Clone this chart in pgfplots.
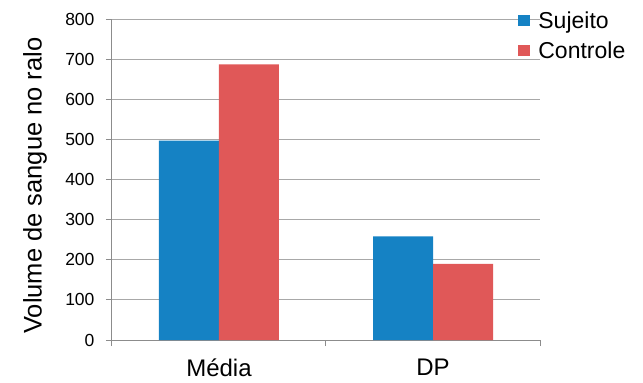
\documentclass[border=0pt]{standalone}
\usepackage{pgfplots}
\pgfplotsset{compat=1.18}
\usepackage{fontspec}
\setmainfont{Liberation Sans}
\definecolor{sblue}{RGB}{21,130,196}
\definecolor{cred}{RGB}{224,88,88}
\definecolor{gridc}{RGB}{168,168,168}
\definecolor{axc}{RGB}{140,140,140}
\begin{document}
\begin{tikzpicture}
\useasboundingbox (-112pt,-43pt) rectangle (531pt,340pt);
\begin{axis}[
 scale only axis, width=428pt, height=321pt,
 at={(0,0)}, anchor=south west,
 ybar=0pt, bar width=60pt,
 xmin=-0.5, xmax=1.5, ymin=0, ymax=800,
 xtick={0,1}, xticklabels={Média,DP},
 minor xtick={-0.5,0.5,1.5},
 ytick={0,100,...,800},
 axis lines*=left,
 axis line style={axc, line width=1pt},
 tick style={axc, line width=1pt},
 major x tick style={draw=none},
 tick align=outside, major tick length=6pt, minor tick length=6pt,
 ymajorgrids, grid style={gridc, line width=1pt},
 /pgf/number format/assume math mode=true,
 yticklabel style={font=\fontsize{17.5}{20}\selectfont, xshift=-8pt},
 xticklabel style={font=\fontsize{24}{28}\selectfont, yshift=-9pt},
 ylabel={Volume de sangue no ralo},
 ylabel style={font=\fontsize{25.5}{30}\selectfont, at={(axis description cs:-0.18,0.481)}, anchor=center},
 legend style={draw=none, fill=none, at={(rel axis cs:0.949,1.03)}, anchor=north west, font=\fontsize{23}{26}\selectfont, row sep=8pt, inner sep=0pt},
 legend cell align=left,
 legend image code/.code={\fill[#1] (0pt,-5.5pt) rectangle (12pt,5.5pt); \path (18pt,0pt);},
]
\addplot[fill=sblue, draw=none] coordinates {(0,497) (1,258)};
\addplot[fill=cred, draw=none] coordinates {(0,687) (1,190)};
\legend{Sujeito,Controle}
\end{axis}
\end{tikzpicture}
\end{document}
